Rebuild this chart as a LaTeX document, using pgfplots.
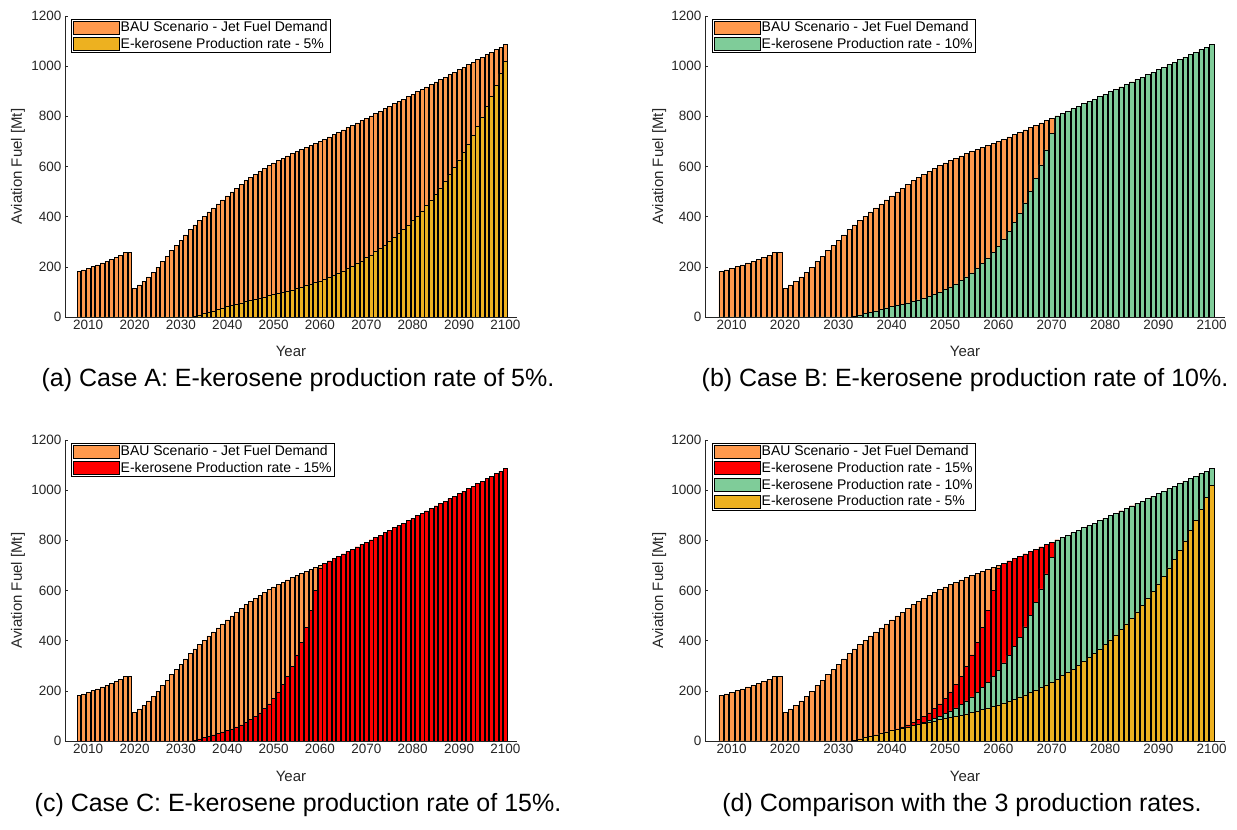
\documentclass[border=0pt]{standalone}
\usepackage{pgfplots}
\pgfplotsset{compat=1.18}
\usepackage{pgfplotstable}
\usepackage{fontspec}
\setmainfont{Liberation Sans}
\definecolor{bau}{RGB}{255,153,77}
\definecolor{ek5}{RGB}{237,177,32}
\definecolor{ek10}{RGB}{127,204,153}
\definecolor{ek15}{RGB}{255,0,0}
\definecolor{axgray}{RGB}{38,38,38}

\pgfplotstableread{
year bau e5 e10 e15
2008 182 0 0 0
2009 188 0 0 0
2010 194 0 0 0
2011 201 0 0 0
2012 208 0 0 0
2013 216 0 0 0
2014 223 0 0 0
2015 231 0 0 0
2016 239 0 0 0
2017 247 0 0 0
2018 256 0 0 0
2019 257 0 0 0
2020 114 0 0 0
2021 128 0 0 0
2022 142 0 0 0
2023 160 0 0 0
2024 179 0 0 0
2025 199 0 0 0
2026 221 0 0 0
2027 243 0 0 0
2028 264 0 0 0
2029 285 0 0 0
2030 306 0 0 0
2031 327 0 0 0
2032 348 0 0 0
2033 367 3 3 3
2034 385 8 8 8
2035 402 13 13 13
2036 419 18 18 18
2037 435 24 24 24
2038 451 30 30 30
2039 467 36 36 36
2040 483 41 41 42
2041 499 46 46 48
2042 514 51 51 56
2043 529 56 56 64
2044 543 61 62 74
2045 556 65 68 85
2046 569 70 75 98
2047 581 75 82 112
2048 593 80 90 129
2049 604 85 99 148
2050 614 89 109 170
2051 624 93 120 196
2052 633 98 132 225
2053 642 103 145 259
2054 651 108 160 298
2055 659 113 176 343
2056 667 119 193 394
2057 675 125 213 453
2058 683 131 234 521
2059 691 137 257 599
2060 700 144 283 689
2061 709 152 311 709
2062 718 159 342 718
2063 728 167 376 728
2064 737 176 414 737
2065 746 184 455 746
2066 756 194 501 756
2067 765 203 551 765
2068 774 214 606 774
2069 784 224 666 784
2070 793 236 733 793
2071 802 247 802 802
2072 812 260 812 812
2073 821 273 821 821
2074 831 286 831 831
2075 840 301 840 840
2076 850 316 850 850
2077 859 332 859 859
2078 869 348 869 869
2079 878 366 878 878
2080 888 384 888 888
2081 898 403 898 898
2082 907 423 907 907
2083 917 445 917 917
2084 927 467 927 927
2085 937 490 937 937
2086 947 515 947 947
2087 956 540 956 956
2088 966 567 966 966
2089 976 596 976 976
2090 986 626 986 986
2091 996 657 996 996
2092 1006 690 1006 1006
2093 1016 724 1016 1016
2094 1026 760 1026 1026
2095 1036 798 1036 1036
2096 1046 838 1046 1046
2097 1056 880 1056 1056
2098 1066 924 1066 1066
2099 1076 970 1076 1076
2100 1086 1019 1086 1086
}\data

\pgfplotsset{
  myleg/.style={legend image code/.code={\draw[##1] (0pt,-6.5pt) rectangle (46pt,6.5pt);}},
  b/.style={fill=#1, draw=black, line width=0.6pt, bar shift=0pt, bar width=0.8, myleg},
  panel/.style={
    scale only axis, height=301pt,
    ybar,
    xmin=2005, xmax=2102.5, ymin=0, ymax=1200,
    enlargelimits=false,
    axis x line*=bottom, axis y line*=left,
    axis line style={axgray, line width=0.6pt},
    xtick={2010,2020,...,2100}, ytick={0,200,...,1200},
    tick style={axgray, line width=0.5pt},
    tick align=inside, major tick length=3pt,
    scaled y ticks=false,
    tick label style={font=\fontsize{13.5}{16}\selectfont, text=axgray},
    /pgf/number format/assume math mode=true,
    x tick label style={/pgf/number format/1000 sep={}},
    y tick label style={/pgf/number format/1000 sep={}},
    xlabel={Year}, ylabel={Aviation Fuel [Mt]},
    label style={font=\fontsize{15}{18}\selectfont, text=axgray},
    x label style={at={(axis description cs:0.5,-0.116)}, anchor=center},
    legend cell align=left,
    legend style={at={(axis description cs:0.014,0.99)}, anchor=north west,
      draw=black, line width=0.6pt, fill=white,
      font=\fontsize{14}{16}\selectfont, inner sep=1.5pt, row sep=3pt,
      nodes={inner sep=1pt}},
  }
}

\begin{document}
\begin{tikzpicture}[x=1pt,y=1pt]
\useasboundingbox (0,0) rectangle (1237,830);

% (a)
\begin{axis}[panel, width=452pt, at={(65pt,513pt)}, anchor=south west,
  y label style={at={(axis description cs:-0.104,0.5)}, anchor=center}]
\addplot[b=bau] table[x=year,y=bau]{\data};
\addlegendentry{BAU Scenario - Jet Fuel Demand}
\addplot[b=ek5] table[x=year,y=e5]{\data};
\addlegendentry{E-kerosene Production rate - 5\%}
\end{axis}

% (b)
\begin{axis}[panel, width=520pt, at={(705pt,513pt)}, anchor=south west,
  y label style={at={(axis description cs:-0.088,0.5)}, anchor=center}]
\addplot[b=bau] table[x=year,y=bau]{\data};
\addlegendentry{BAU Scenario - Jet Fuel Demand}
\addplot[b=ek10] table[x=year,y=e10]{\data};
\addlegendentry{E-kerosene Production rate - 10\%}
\end{axis}

% (c)
\begin{axis}[panel, width=452pt, at={(65pt,89pt)}, anchor=south west,
  y label style={at={(axis description cs:-0.104,0.5)}, anchor=center}]
\addplot[b=bau] table[x=year,y=bau]{\data};
\addlegendentry{BAU Scenario - Jet Fuel Demand}
\addplot[b=ek15] table[x=year,y=e15]{\data};
\addlegendentry{E-kerosene Production rate - 15\%}
\end{axis}

% (d)
\begin{axis}[panel, width=520pt, at={(705pt,89pt)}, anchor=south west,
  y label style={at={(axis description cs:-0.088,0.5)}, anchor=center}]
\addplot[b=bau] table[x=year,y=bau]{\data};
\addlegendentry{BAU Scenario - Jet Fuel Demand}
\addplot[b=ek15] table[x=year,y=e15]{\data};
\addlegendentry{E-kerosene Production rate - 15\%}
\addplot[b=ek10] table[x=year,y=e10]{\data};
\addlegendentry{E-kerosene Production rate - 10\%}
\addplot[b=ek5] table[x=year,y=e5]{\data};
\addlegendentry{E-kerosene Production rate - 5\%}
\end{axis}

\node[font=\fontsize{25}{30}\selectfont] at (298,450) {(a) Case A: E-kerosene production rate of 5\%.};
\node[font=\fontsize{25}{30}\selectfont] at (965,450) {(b) Case B: E-kerosene production rate of 10\%.};
\node[font=\fontsize{25}{30}\selectfont] at (298,25) {(c) Case C: E-kerosene production rate of 15\%.};
\node[font=\fontsize{25}{30}\selectfont] at (962,25) {(d) Comparison with the 3 production rates.};
\end{tikzpicture}
\end{document}
